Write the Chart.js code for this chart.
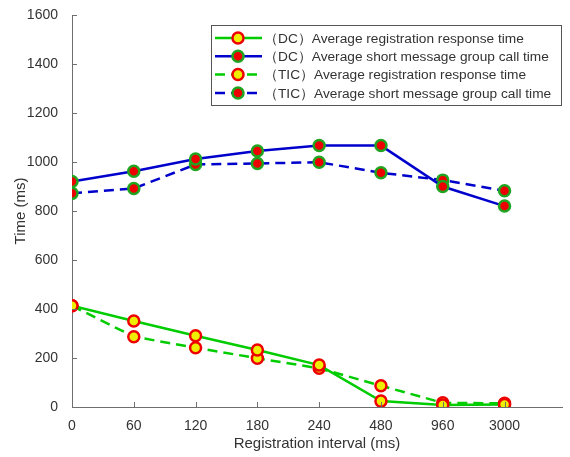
<!DOCTYPE html>
<html>
<head>
<meta charset="utf-8">
<script src="https://cdn.jsdelivr.net/npm/chart.js@4"></script>
<style>
  html, body { margin: 0; padding: 0; background: #fff; }
  #wrap { width: 570px; height: 457px; }
</style>
</head>
<body>
<div id="wrap"><canvas id="timeChart"></canvas></div>
<script>
// categories on the x axis (registration interval, ms)
const intervals = ["0", "60", "120", "180", "240", "480", "960", "3000"];

// series values (ms)
const dcRegister = [413, 351, 291, 233, 171, 24, 8, 10];
const dcGroupCall = [920, 962, 1012, 1045, 1067, 1067, 900, 820];
const ticRegister = [413, 287, 242, 199, 158, 87, 17, 15];
const ticGroupCall = [872, 892, 990, 994, 999, 956, 926, 883];

const seriesNames = [
    "（DC）Average registration response time",
    "（DC）Average short message group call time",
    "（TIC）Average registration response time",
    "（TIC）Average short message group call time"
];

const yTicks = [0, 200, 400, 600, 800, 1000, 1200, 1400, 1600];

const GREEN = "#00cc00";
const BLUE = "#0000cc";
const RED = "#ee0000";
const YELLOW = "#eeee00";
const MARK_GREEN = "#1fa51f";
const AXIS = "#6e6e6e";
const TEXT = "#333333";
const FONT = "'Liberation Sans', Arial, sans-serif";

const toPoints = (vals) => vals.map((v, i) => ({ x: i, y: v }));

const makeSet = (label, vals, line, fill, edge, dash) => ({
    label,
    data: toPoints(vals),
    borderColor: line,
    backgroundColor: line,
    borderWidth: 2.5,
    borderDash: dash,
    pointRadius: 5.5,
    pointHoverRadius: 5.5,
    pointBackgroundColor: fill,
    pointBorderColor: edge,
    pointBorderWidth: 2.5,
    tension: 0
});

// inward tick marks like the original figure
const innerTicks = {
    id: "innerTicks",
    afterDraw(chart) {
        const { ctx, scales: { x, y } } = chart;
        ctx.save();
        ctx.strokeStyle = AXIS;
        ctx.lineWidth = 1;
        ctx.beginPath();
        intervals.forEach((c, i) => {
            const px = Math.round(x.getPixelForValue(i)) + 0.5;
            ctx.moveTo(px, y.bottom);
            ctx.lineTo(px, y.bottom - 5);
        });
        yTicks.forEach((t) => {
            const py = Math.round(y.getPixelForValue(t)) + 0.5;
            ctx.moveTo(x.left, py);
            ctx.lineTo(x.left + 5, py);
        });
        ctx.stroke();
        ctx.restore();
    }
};

// legend with line + marker samples, boxed in the top right
const boxLegend = {
    id: "boxLegend",
    afterDraw(chart) {
        const { ctx } = chart;
        const left = 211, top = 25, right = 561, bottom = 105;
        ctx.save();
        ctx.fillStyle = "#fff";
        ctx.fillRect(left, top, right - left, bottom - top);
        ctx.strokeStyle = "#555";
        ctx.lineWidth = 1;
        ctx.strokeRect(left + 0.5, top + 0.5, right - left, bottom - top);
        ctx.font = "13.7px " + FONT;
        ctx.textBaseline = "middle";
        chart.data.datasets.forEach((ds, i) => {
            const cy = 38 + i * 18.3;
            ctx.strokeStyle = ds.borderColor;
            ctx.lineWidth = 2.5;
            ctx.setLineDash(ds.borderDash || []);
            ctx.beginPath();
            ctx.moveTo(215, cy);
            ctx.lineTo(262, cy);
            ctx.stroke();
            ctx.setLineDash([]);
            ctx.beginPath();
            ctx.arc(238, cy, 5.5, 0, Math.PI * 2);
            ctx.fillStyle = ds.pointBackgroundColor;
            ctx.fill();
            ctx.strokeStyle = ds.pointBorderColor;
            ctx.lineWidth = 2.5;
            ctx.stroke();
            ctx.fillStyle = TEXT;
            ctx.fillText(ds.label, 264, cy + 1);
        });
        ctx.restore();
    }
};

new Chart(document.getElementById("timeChart"), {
    type: "line",
    data: {
        datasets: [
            makeSet(seriesNames[0], dcRegister, GREEN, YELLOW, RED, []),
            makeSet(seriesNames[1], dcGroupCall, BLUE, RED, MARK_GREEN, []),
            makeSet(seriesNames[2], ticRegister, GREEN, YELLOW, RED, [10, 6]),
            makeSet(seriesNames[3], ticGroupCall, BLUE, RED, MARK_GREEN, [10, 6])
        ]
    },
    options: {
        responsive: true,
        maintainAspectRatio: false,
        animation: false,
        layout: { padding: { top: 15, right: 3, left: 8, bottom: 0 } },
        plugins: {
            legend: { display: false },
            tooltip: { enabled: false }
        },
        scales: {
            x: {
                type: "linear",
                min: 0,
                max: 7.93,
                afterFit: (s) => { s.height = 50; },
                border: { color: AXIS, width: 1 },
                grid: { display: false },
                ticks: {
                    stepSize: 1,
                    includeBounds: false,
                    autoSkip: false,
                    maxRotation: 0,
                    padding: 3,
                    color: TEXT,
                    font: { family: FONT, size: 14 },
                    callback: (v) => intervals[v] !== undefined && Number.isInteger(v) ? intervals[v] : ""
                },
                title: {
                    display: true,
                    text: "Registration interval (ms)",
                    color: TEXT,
                    padding: { top: 0 },
                    font: { family: FONT, size: 15 }
                }
            },
            y: {
                min: 0,
                max: 1600,
                afterFit: (s) => { s.width = 64; },
                border: { color: AXIS, width: 1 },
                grid: { display: false },
                ticks: {
                    stepSize: 200,
                    padding: 6,
                    color: TEXT,
                    font: { family: FONT, size: 14 },
                    callback: (v) => String(v)
                },
                title: {
                    display: true,
                    text: "Time (ms)",
                    color: TEXT,
                    padding: { bottom: 4 },
                    font: { family: FONT, size: 15 }
                }
            }
        }
    },
    plugins: [innerTicks, boxLegend]
});
</script>
</body>
</html>
